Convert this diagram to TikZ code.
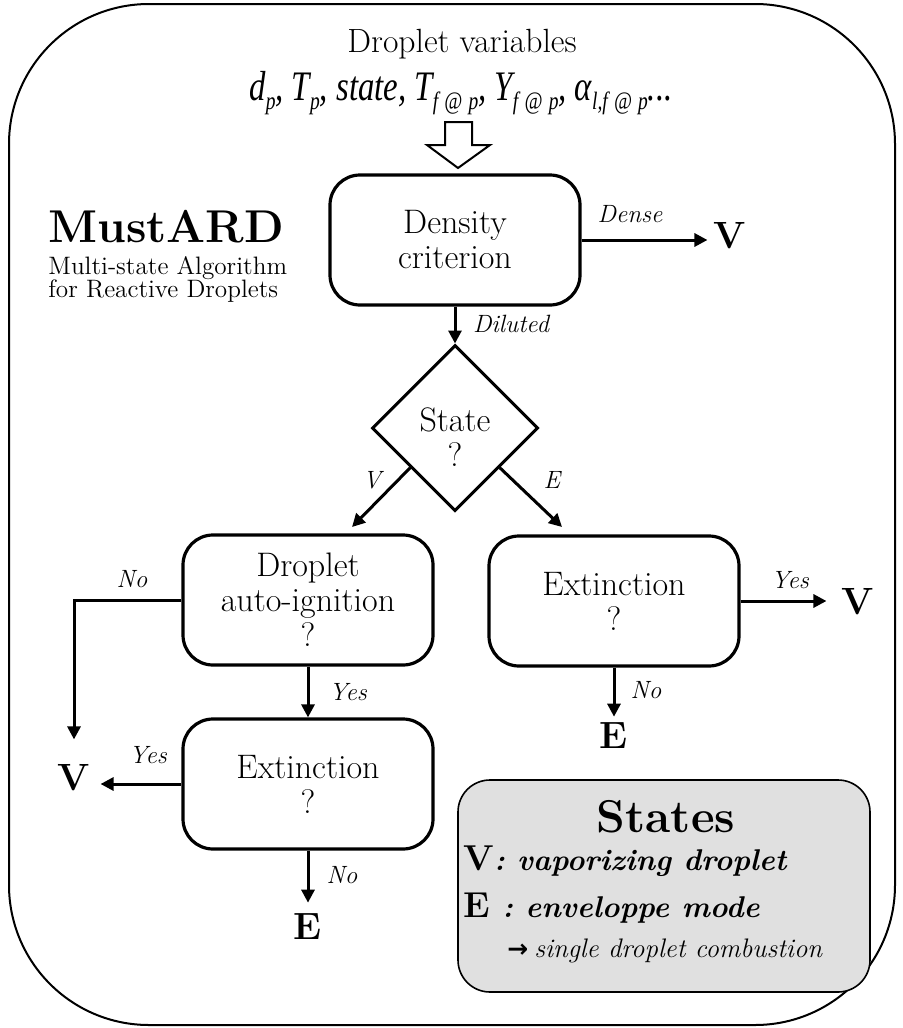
\documentclass[tikz,border=0pt]{standalone}
\usepackage{fontspec}
\usepackage{graphicx}
\newfontfamily\timesf{Liberation Serif}
\newfontfamily\djv{DejaVu Sans}
\usetikzlibrary{arrows.meta,shapes.geometric,calc}
\newcommand{\sbx}[1]{\raisebox{-4.5pt}{\fontsize{12.5}{13}\selectfont #1}}
\newcommand{\fap}{f\hspace{4pt}@\hspace{4pt}p}
\begin{document}
\begin{tikzpicture}[x=0.5pt,y=-0.5pt,
  proc/.style={draw,line width=1.6pt,rounded corners=15pt,minimum width=125pt,minimum height=65pt,align=center,inner sep=0pt,font=\fontsize{17}{17.5}\selectfont},
  arr/.style={line width=1.5pt,-{Triangle[length=6.5pt,width=6.5pt]}},
  lbl/.style={font=\fontsize{12.5}{14}\selectfont\itshape,inner sep=0pt},
  outst/.style={font=\fontsize{19}{22}\selectfont\bfseries,inner sep=3pt},
  ]
\useasboundingbox (0,0) rectangle (903,1028);
\draw[line width=1pt,rounded corners=70pt] (9,4) rectangle (895,1025);

% title
\node[anchor=base,inner sep=0pt,font=\fontsize{16.8}{18}\selectfont] (title) at (462,53) {Droplet variables};
\node[anchor=base,inner sep=0pt] (vars) at (461,100)
  {\scalebox{0.78}[1]{\timesf\itshape\fontsize{21}{24}\selectfont d\sbx{p}, T\sbx{p}, state, T\sbx{\fap}, Y\sbx{\fap}, α\sbx{l,\fap}...}};
\draw[line width=1pt] (445,122) -- (472,122) -- (472,145) -- (490,145) -- (458,168) -- (427,145) -- (445,145) -- cycle;

% MustARD
\node[anchor=base west,inner sep=0pt,font=\fontsize{23}{26}\selectfont\bfseries] (must) at (48,242) {MustARD};
\node[anchor=base west,inner sep=0pt,font=\fontsize{12.6}{12}\selectfont] (must1) at (48,274) {Multi-state Algorithm};
\node[anchor=base west,inner sep=0pt,font=\fontsize{12.6}{12}\selectfont] (must2) at (48,297) {for Reactive Droplets};

% boxes
\node[proc] (dens) at (455,240) {Density\\criterion};
\node[draw,diamond,line width=1.5pt,minimum width=83pt,minimum height=83pt,inner sep=0pt] (st) at (455,428) {};
\node[align=center,inner sep=0pt,font=\fontsize{17}{17.5}\selectfont] (sttxt) at (455,437) {State\\?};
\node[proc] (ign) at (308,600) {Droplet\\auto-ignition\\?};
\node[proc] (ext1) at (308,784) {Extinction\\?};
\node[proc] (ext2) at (614,601) {Extinction\\?};

% outcomes
\node[outst] (vd) at (730,236) {V};
\node[outst] (va) at (74,778) {V};
\node[outst] (vb) at (858,602) {V};
\node[outst] (e1) at (308,927) {E};
\node[outst] (e2) at (614,736) {E};

\coordinate (vtip) at (352,527);
\coordinate (etip) at (562,527);
\coordinate (vs) at ($(st.west)!0.47!(st.south)$);
\coordinate (es) at ($(st.east)!0.47!(st.south)$);

% connectors
\draw[arr] (dens.east) -- (dens.east -| vd.west);
\draw[arr] (dens.south) -- (st.north);
\draw[arr] (vs) -- (vtip);
\draw[arr] (es) -- (etip);
\draw[arr,shorten >=9.5pt] (ign.west) -| (va.north);
\draw[arr] (ign.south) -- (ext1.north);
\draw[arr,shorten >=2pt] (ext1.west) -- (ext1.west -| va.east);
\draw[arr,shorten >=2.5pt] (ext1.south) -- (e1.north);
\draw[arr,shorten >=4.5pt] (ext2.east) -- (ext2.east -| vb.west);
\draw[arr] (ext2.south) -- (e2.north);

% labels
\node[lbl] (l1) at (630,214) {Dense};
\node[lbl] (l2) at (511,324) {Diluted};
\node[lbl] (l3) at (372,480) {V};
\node[lbl] (l4) at (552,480) {E};
\node[lbl] (l5) at (132,579) {No};
\node[lbl] (l6) at (348,692) {Yes};
\node[lbl] (l7) at (148,755) {Yes};
\node[lbl] (l8) at (342,875) {No};
\node[lbl] (l9) at (790,580) {Yes};
\node[lbl] (l10) at (646,690) {No};

% states legend
\node[draw,fill=black!12,line width=0.8pt,rounded corners=16pt,minimum width=206pt,minimum height=106pt] (sb) at (664,886) {};
\node[anchor=base,inner sep=0pt,font=\fontsize{23}{26}\selectfont\bfseries] (sbt) at (666,832) {States};
\node[anchor=base west,inner sep=0pt] (sv) at (463,870) {{\fontsize{18}{20}\selectfont\bfseries V}{\fontsize{15}{17}\selectfont\bfseries\itshape : vaporizing droplet}};
\node[anchor=base west,inner sep=0pt] (se) at (463,917) {{\fontsize{18}{20}\selectfont\bfseries E}{\fontsize{15}{17}\selectfont\bfseries\itshape\ : enveloppe mode}};
\node[anchor=base west,inner sep=0pt] (ss) at (507,957) {{\djv\bfseries\fontsize{12.5}{13}\selectfont →}\hspace{3pt}{\fontsize{13.4}{15}\selectfont\itshape single droplet combustion}};
\end{tikzpicture}
\end{document}
